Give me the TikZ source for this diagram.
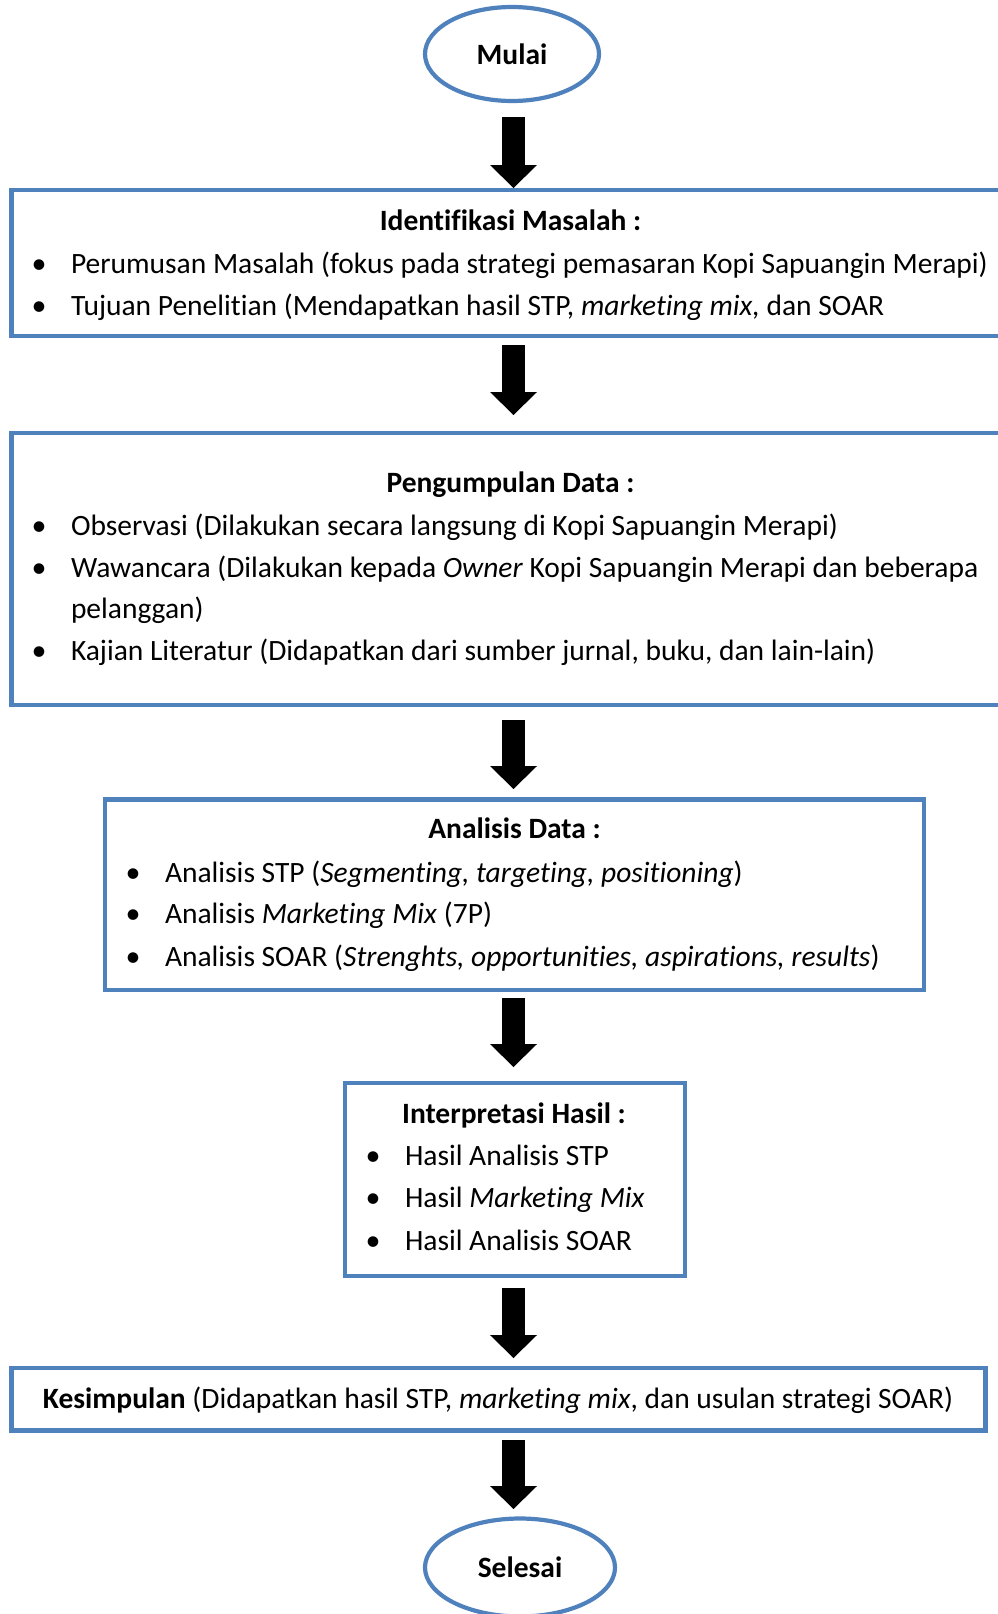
\documentclass[tikz,border=0pt]{standalone}
\usepackage{fontspec}
\setmainfont{Carlito}[Ligatures=NoCommon]
\usetikzlibrary{shapes.geometric,arrows.meta}
\definecolor{myblue}{HTML}{4F81BD}
\newcommand\fs{\fontsize{29.5pt}{35pt}\selectfont}
\newcommand\bul{\llap{\makebox[0pt][c]{\fontsize{30pt}{30pt}\selectfont\textbullet}\hspace{32pt}}}
\tikzset{
  boxnode/.style={draw=myblue, line width=4.2pt, rectangle, inner sep=0pt, outer sep=0pt},
  oval/.style={draw=myblue, line width=4.2pt, ellipse, inner sep=0pt, outer sep=0pt, font=\fs\bfseries},
  ttl/.style={anchor=base, inner sep=0pt, outer sep=0pt, font=\fs\bfseries},
  itm/.style={anchor=base west, inner sep=0pt, outer sep=0pt, font=\fs},
  blk/.style={line width=23pt, -{Triangle[width=47pt,length=23pt,line width=0pt]}},
}
\begin{document}
\begin{tikzpicture}[x=1pt,y=-1pt]
\useasboundingbox (0,0) rectangle (998,1614);
\clip (0,0) rectangle (998,1614);
% shapes
\node[oval, minimum width=174pt, minimum height=94pt] (mulai) at (512,54) {Mulai};
\node[boxnode, minimum width=998.5pt, minimum height=146pt] (b1) at (510.75,263) {};
\node[boxnode, minimum width=998.5pt, minimum height=272pt] (b2) at (510.75,569) {};
\node[boxnode, minimum width=819pt, minimum height=190.5pt] (b3) at (514.5,894.75) {};
\node[boxnode, minimum width=340pt, minimum height=193pt] (b4) at (515,1179.5) {};
\node[boxnode, minimum width=974pt, minimum height=62.5pt] (b5) at (498.5,1399.25) {};
\node[oval, minimum width=190pt, minimum height=98pt] (sel) at (520,1567.5) {Selesai};
% box 1
\node[ttl] (t1) at (510.5,230) {Identifikasi Masalah :};
\node[itm] (i11) at (71,273) {\bul Perumusan Masalah (fokus pada strategi pemasaran Kopi Sapuangin Merapi)};
\node[itm] (i12) at (71,315) {\bul Tujuan Penelitian (Mendapatkan hasil STP, \textit{marketing mix,} dan SOAR};
% box 2
\node[ttl] (t2) at (510.5,492) {Pengumpulan Data :};
\node[itm] (i21) at (71,535) {\bul Observasi (Dilakukan secara langsung di Kopi Sapuangin Merapi)};
\node[itm] (i22) at (71,577) {\bul Wawancara (Dilakukan kepada \textit{Owner} Kopi Sapuangin Merapi dan beberapa};
\node[itm] (i22b) at (71,618) {pelanggan)};
\node[itm] (i23) at (71,660) {\bul Kajian Literatur (Didapatkan dari sumber jurnal, buku, dan lain-lain)};
% box 3
\node[ttl] (t3) at (514.5,838) {Analisis Data :};
\node[itm] (i31) at (165,882) {\bul Analisis STP (\textit{Segmenting, targeting, positioning})};
\node[itm] (i32) at (165,923) {\bul Analisis \textit{Marketing Mix} (7P)};
\node[itm] (i33) at (165,966) {\bul Analisis SOAR (\textit{Strenghts, opportunities, aspirations, results})};
% box 4
\node[ttl] (t4) at (514,1123) {Interpretasi Hasil :};
\node[itm] (i41) at (405,1165) {\bul Hasil Analisis STP};
\node[itm] (i42) at (405,1207) {\bul Hasil \textit{Marketing Mix}};
\node[itm] (i43) at (405,1250) {\bul Hasil Analisis SOAR};
% box 5
\node[ttl, font=\fs] (t5) at (498,1408) {\textbf{Kesimpulan} (Didapatkan hasil STP, \textit{marketing mix}, dan usulan strategi SOAR)};
% arrows
\draw[blk, shorten <=16pt, shorten >=2pt] ([xshift=1.5pt]mulai.south) -- ([xshift=1.5pt]mulai.south |- b1.north);
\draw[blk, shorten <=9pt, shorten >=18pt] ([xshift=2.75pt]b1.south) -- ([xshift=2.75pt]b1.south |- b2.north);
\draw[blk, shorten <=15pt, shorten >=10.5pt] ([xshift=2.75pt]b2.south) -- ([xshift=2.75pt]b2.south |- b3.north);
\draw[blk, shorten <=8pt, shorten >=16pt] ([xshift=-1pt]b3.south) -- ([xshift=-1pt]b3.south |- b4.north);
\draw[blk, shorten <=12pt, shorten >=10pt] ([xshift=-1.5pt]b4.south) -- ([xshift=-1.5pt]b4.south |- b5.north);
\draw[blk, shorten <=9.5pt, shorten >=9.5pt] ([xshift=15pt]b5.south) -- ([xshift=15pt]b5.south |- sel.north);
\end{tikzpicture}
\end{document}
